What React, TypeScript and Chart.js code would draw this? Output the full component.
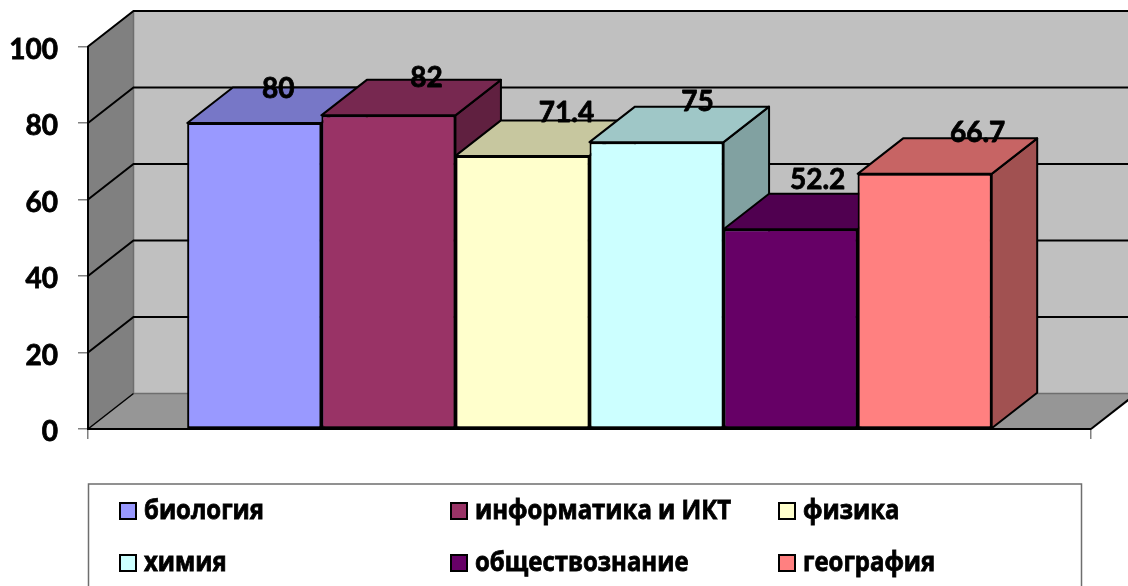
import React, { useEffect, useRef } from "react";
import { Chart, registerables } from "chart.js";

Chart.register(...registerables);

const subjects = ["биология", "информатика и ИКТ", "физика", "химия", "обществознание", "география"];
const scores = [80, 82, 71.4, 75, 52.2, 66.7];
const scoreLabels = ["80", "82", "71.4", "75", "52.2", "66.7"];
const frontColors = ["#9999FF", "#993366", "#FFFFCC", "#CCFFFF", "#660066", "#FF8080"];
const yTicks = [0, 20, 40, 60, 80, 100];

// label nudges relative to the bar's top-centre, as placed by hand in the original
const labelDx = [24, 38, 44, 41, 27, 53];
const labelDy = [-34, -37, -43, -40, -49, -41];

const DEPTH_X = 45.5;
const DEPTH_Y = 35.5;
const LEGEND_FONT = "bold 26px 'Open Sans', 'Noto Sans', sans-serif";
const LEGEND_SQUEEZE = 0.92;
const NUM_FONT = "bold 28px Lato, 'Open Sans', sans-serif";
const TEXT_WEIGHT_STROKE = 0.8;
const legendCols = [119, 450, 778];
const legendRows = [511, 563];

function shade(hex: string, k: number) {
  const n = parseInt(hex.slice(1), 16);
  const r = Math.round(((n >> 16) & 255) * k);
  const g = Math.round(((n >> 8) & 255) * k);
  const b = Math.round((n & 255) * k);
  return `rgb(${r},${g},${b})`;
}

function poly(ctx: CanvasRenderingContext2D, pts: number[][], fill: string | null, stroke: string | null, lw = 2) {
  ctx.beginPath();
  pts.forEach(([x, y], i) => (i ? ctx.lineTo(x, y) : ctx.moveTo(x, y)));
  if (fill) {
    ctx.closePath();
    ctx.fillStyle = fill;
    ctx.fill();
  }
  if (stroke) {
    ctx.strokeStyle = stroke;
    ctx.lineWidth = lw;
    ctx.stroke();
  }
}

const wallsPlugin = {
  id: "walls",
  beforeDraw(chart: any) {
    const { ctx, chartArea: a, scales } = chart;
    const y = scales.y;
    const L = a.left, R = a.right, T = a.top, B = a.bottom;
    const dx = DEPTH_X, dy = DEPTH_Y;
    ctx.save();
    poly(ctx, [[L + dx, T - dy], [R + dx, T - dy], [R + dx, B - dy], [L + dx, B - dy]], "#C0C0C0", null);
    poly(ctx, [[L, T], [L + dx, T - dy], [L + dx, B - dy], [L, B]], "#808080", null);
    poly(ctx, [[L, B], [L + dx, B - dy], [R + dx, B - dy], [R, B]], "#969696", null);
    poly(ctx, [[L + dx, T - dy], [L + dx, B - dy]], null, "#6e6e6e", 1.5);
    poly(ctx, [[L + dx, B - dy], [R + dx, B - dy]], null, "#6e6e6e", 1.5);
    yTicks.forEach((t) => {
      const py = y.getPixelForValue(t);
      if (t > 0) poly(ctx, [[L, py], [L + dx, py - dy], [R + dx, py - dy]], null, "#000", 2);
      else poly(ctx, [[L, py], [L + dx, py - dy]], null, "#000", 1.5);
    });
    poly(ctx, [[R, B], [R + dx, B - dy]], null, "#000", 2);
    ctx.restore();
  },
  afterDatasetsDraw(chart: any) {
    const { ctx } = chart;
    ctx.save();
    ctx.lineJoin = "round";
    // paint the boxes from left to right so that each one covers its neighbour's side face
    chart.data.datasets.forEach((_: any, i: number) => {
      const bar = chart.getDatasetMeta(i).data[0];
      const hw = bar.width / 2;
      const l = bar.x - hw, r = bar.x + hw, t = bar.y, b = bar.base;
      const c = frontColors[i];
      poly(ctx, [[r, t], [r + DEPTH_X, t - DEPTH_Y], [r + DEPTH_X, b - DEPTH_Y], [r, b]], shade(c, 0.63), "#000", 2);
      poly(ctx, [[l, t], [l + DEPTH_X, t - DEPTH_Y], [r + DEPTH_X, t - DEPTH_Y], [r, t]], shade(c, 0.78), "#000", 2);
      bar.draw(ctx);
    });
    ctx.fillStyle = "#000";
    ctx.strokeStyle = "#000";
    ctx.lineWidth = TEXT_WEIGHT_STROKE;
    ctx.font = NUM_FONT;
    ctx.textAlign = "center";
    ctx.textBaseline = "middle";
    chart.data.datasets.forEach((_: any, i: number) => {
      const bar = chart.getDatasetMeta(i).data[0];
      ctx.fillText(scoreLabels[i], bar.x + labelDx[i], bar.y + labelDy[i]);
      ctx.strokeText(scoreLabels[i], bar.x + labelDx[i], bar.y + labelDy[i]);
    });
    ctx.restore();
  },
  afterDraw(chart: any) {
    const { ctx, height, chartArea: a } = chart;
    ctx.save();
    ctx.strokeStyle = "#6e6e6e";
    ctx.lineWidth = 1.5;
    ctx.strokeRect(a.left + 0.5, 484, 993, height);
    ctx.font = LEGEND_FONT;
    ctx.textBaseline = "middle";
    ctx.textAlign = "left";
    chart.data.datasets.forEach((ds: any, i: number) => {
      const col = i % 3, row = Math.floor(i / 3);
      const x = legendCols[col], y = legendRows[row];
      ctx.fillStyle = ds.backgroundColor;
      ctx.fillRect(x + 1, y - 8, 16, 16);
      ctx.strokeStyle = "#000";
      ctx.lineWidth = 2;
      ctx.strokeRect(x + 1, y - 8, 16, 16);
      ctx.fillStyle = "#000";
      const w = ctx.measureText(ds.label).width * LEGEND_SQUEEZE;
      ctx.fillText(ds.label, x + 25, y + 1, w);
      ctx.lineWidth = TEXT_WEIGHT_STROKE;
      ctx.strokeText(ds.label, x + 25, y + 1, w);
    });
    ctx.restore();
  },
};

export default function App() {
  const ref = useRef<HTMLCanvasElement>(null);
  useEffect(() => {
    const chart = new Chart(ref.current!, {
      type: "bar",
      data: {
        labels: [""],
        datasets: subjects.map((s, i) => ({
          label: s,
          data: [scores[i]],
          backgroundColor: frontColors[i],
          borderColor: "#000",
          borderWidth: 2,
          borderSkipped: false,
          categoryPercentage: 0.802,
          barPercentage: 1,
        })),
      },
      options: {
        responsive: false,
        animation: false,
        layout: { padding: { top: 46.5, right: 37, left: 0, bottom: 0 } },
        plugins: { legend: { display: false }, tooltip: { enabled: false } },
        scales: {
          x: {
            afterFit: (s: any) => { s.height = 157; },
            grid: { drawOnChartArea: false, drawTicks: true, tickLength: 10, color: "#808080", lineWidth: 1.5 },
            border: { display: true, color: "#000", width: 2 },
            ticks: { display: false },
          },
          y: {
            min: 0,
            max: 100,
            afterFit: (s: any) => { s.width = 88; },
            afterBuildTicks: (s: any) => { s.ticks = yTicks.map((v) => ({ value: v })); },
            grid: { drawOnChartArea: false, drawTicks: true, tickLength: 10, color: "#808080", lineWidth: 1.5 },
            border: { display: true, color: "#000", width: 2 },
            ticks: {
              color: "#000",
              padding: 20,
              labelOffset: 3,
              textStrokeColor: "#000",
              textStrokeWidth: TEXT_WEIGHT_STROKE,
              font: { family: "Lato, 'Open Sans', sans-serif", size: 28, weight: "bold" },
            },
          },
        },
      },
      plugins: [wallsPlugin],
    } as any);
    return () => chart.destroy();
  }, []);
  return (
    <div style={{ position: "absolute", left: 0, top: 0, width: 1128, height: 586, overflow: "hidden", background: "#fff" }}>
      <canvas ref={ref} width={1128} height={586} style={{ display: "block" }} />
    </div>
  );
}
